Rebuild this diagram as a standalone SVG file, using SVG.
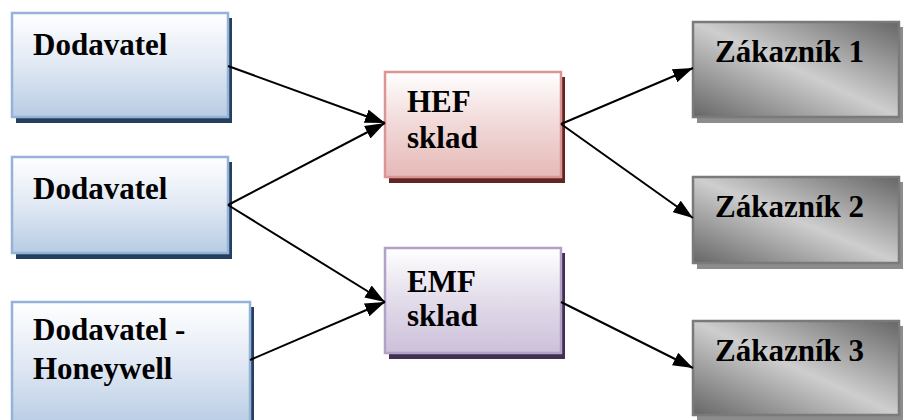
<svg xmlns="http://www.w3.org/2000/svg" width="904" height="420" viewBox="0 0 904 420">
  <defs>
    <linearGradient id="gBlue" x1="0" y1="0" x2="0" y2="1">
      <stop offset="0" stop-color="#ffffff"/>
      <stop offset="0.45" stop-color="#e4ebf5"/>
      <stop offset="1" stop-color="#b8cce4"/>
    </linearGradient>
    <linearGradient id="gRed" x1="0" y1="0" x2="0" y2="1">
      <stop offset="0" stop-color="#ffffff"/>
      <stop offset="0.45" stop-color="#f2dcdb"/>
      <stop offset="1" stop-color="#e5b9b7"/>
    </linearGradient>
    <linearGradient id="gViolet" x1="0" y1="0" x2="0" y2="1">
      <stop offset="0" stop-color="#ffffff"/>
      <stop offset="0.45" stop-color="#e5dfec"/>
      <stop offset="1" stop-color="#ccc0da"/>
    </linearGradient>
    <linearGradient id="gGray" x1="0" y1="1" x2="1" y2="0">
      <stop offset="0" stop-color="#666666"/>
      <stop offset="0.5" stop-color="#cecece"/>
      <stop offset="1" stop-color="#666666"/>
    </linearGradient>
    <marker id="arrow" viewBox="0 0 20 14" refX="20" refY="7" markerWidth="20" markerHeight="14" markerUnits="userSpaceOnUse" orient="auto">
      <path d="M0,0 L20,7 L0,14 Z" fill="#000"/>
    </marker>
    <style>
      .lbl { font-family: 'Liberation Serif', 'Times New Roman', Times, Tinos, 'Noto Serif', 'DejaVu Serif', FreeSerif, serif; font-weight: bold; font-size: 31px; fill: #000; }
      .blue { fill: url(#gBlue); stroke: #95b3d7; stroke-width: 2.5; }
      .blueSh { fill: #243f60; }
      .red { fill: url(#gRed); stroke: #d99694; stroke-width: 2.5; }
      .redSh { fill: #632523; }
      .violet { fill: url(#gViolet); stroke: #b2a2c7; stroke-width: 2.5; }
      .violetSh { fill: #3f3151; }
      .gray { fill: url(#gGray); stroke: #7a7a7a; stroke-width: 2.5; }
      .graySh { fill: #8c8c8c; }
      .conn { stroke: #000; stroke-width: 2; fill: none; marker-end: url(#arrow); }
    </style>
  </defs>

  <!-- suppliers -->
  <g id="dodavatel1">
    <rect class="blueSh" x="16" y="18" width="216" height="105"/>
    <rect class="blue" x="12" y="13" width="216" height="104"/>
    <text class="lbl" x="33" y="55">Dodavatel</text>
  </g>
  <g id="dodavatel2">
    <rect class="blueSh" x="16" y="162" width="216" height="97"/>
    <rect class="blue" x="12" y="157" width="216" height="96"/>
    <text class="lbl" x="33" y="199">Dodavatel</text>
  </g>
  <g id="dodavatel-honeywell">
    <rect class="blueSh" x="16" y="307" width="238" height="120"/>
    <rect class="blue" x="12" y="302" width="238" height="125"/>
    <text class="lbl" x="33" y="340">Dodavatel -</text>
    <text class="lbl" x="33" y="379">Honeywell</text>
  </g>

  <!-- warehouses -->
  <g id="hef-sklad">
    <rect class="redSh" x="389" y="77" width="176" height="106"/>
    <rect class="red" x="385" y="72" width="176" height="105"/>
    <text class="lbl" x="407" y="112">HEF</text>
    <text class="lbl" x="407" y="148">sklad</text>
  </g>
  <g id="emf-sklad">
    <rect class="violetSh" x="389" y="253" width="176" height="106"/>
    <rect class="violet" x="385" y="248" width="176" height="105"/>
    <text class="lbl" x="407" y="292">EMF</text>
    <text class="lbl" x="407" y="326">sklad</text>
  </g>

  <!-- customers -->
  <g id="zakaznik1">
    <rect class="graySh" x="697" y="27" width="206" height="96"/>
    <rect class="gray" x="693" y="22" width="206" height="95"/>
    <text class="lbl" x="715" y="62">Zákazník 1</text>
  </g>
  <g id="zakaznik2">
    <rect class="graySh" x="697" y="182" width="206" height="87"/>
    <rect class="gray" x="693" y="177" width="206" height="86"/>
    <text class="lbl" x="715" y="217">Zákazník 2</text>
  </g>
  <g id="zakaznik3">
    <rect class="graySh" x="697" y="326" width="206" height="95"/>
    <rect class="gray" x="693" y="321" width="206" height="94"/>
    <text class="lbl" x="715" y="361">Zákazník 3</text>
  </g>

  <!-- connectors -->
  <g id="connectors">
    <line class="conn" x1="228" y1="66" x2="385" y2="123"/>
    <line class="conn" x1="228" y1="205" x2="385" y2="123"/>
    <line class="conn" x1="228" y1="205" x2="385" y2="302"/>
    <line class="conn" x1="250" y1="360" x2="385" y2="302"/>
    <line class="conn" x1="561" y1="124" x2="693" y2="68"/>
    <line class="conn" x1="561" y1="124" x2="693" y2="218"/>
    <line class="conn" x1="561" y1="302" x2="693" y2="368"/>
  </g>
</svg>
